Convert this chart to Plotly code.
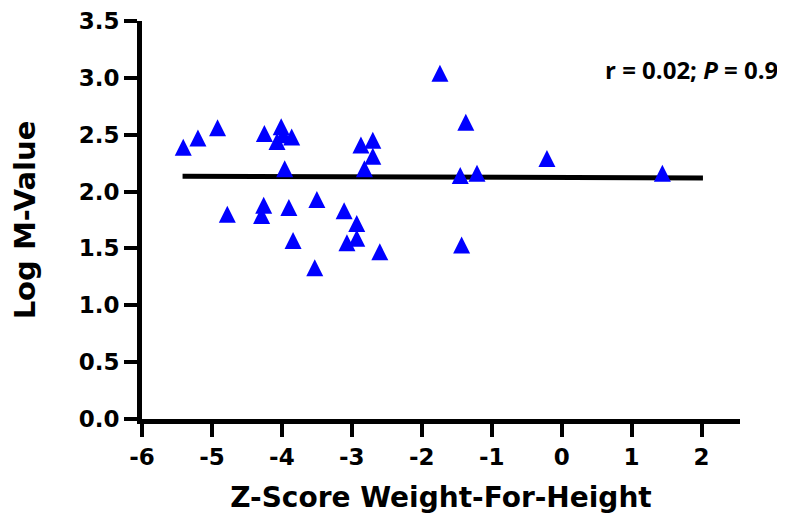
import plotly.graph_objects as go

# Data
z_score = [-5.41, -5.20, -4.92, -4.25, -4.01, -4.07, -3.86, -3.98, -3.96,
           -4.78, -4.26, -4.29, -3.90, -3.50, -3.84, -3.53, -3.11,
           -1.74, -1.37, -2.87, -2.70, -2.70, -2.82, -1.45, -1.21,
           -2.93, -2.93, -3.07, -2.60, -1.43, -0.21, 1.44]
log_m = [2.39, 2.47, 2.56, 2.51, 2.57, 2.44, 2.48, 2.50, 2.20,
         1.80, 1.88, 1.79, 1.86, 1.93, 1.57, 1.33, 1.83,
         3.04, 2.61, 2.41, 2.45, 2.31, 2.20, 2.14, 2.16,
         1.72, 1.59, 1.55, 1.47, 1.53, 2.29, 2.16]
fit_x = [-5.42, 2.02]
fit_y = [2.135, 2.12]

x_ticks = [-6, -5, -4, -3, -2, -1, 0, 1, 2]
y_ticks = [0.0, 0.5, 1.0, 1.5, 2.0, 2.5, 3.0, 3.5]
y_ticklabels = ["0.0", "0.5", "1.0", "1.5", "2.0", "2.5", "3.0", "3.5"]
annotation_text = "r = 0.02; <i>P</i> = 0.9"

FONT = "DejaVu Sans"
fig = go.Figure()
fig.add_trace(go.Scatter(
    x=fit_x, y=fit_y, mode="lines",
    line=dict(color="black", width=5), showlegend=False, hoverinfo="skip"))
# arrow-up markers are anchored at their apex; an overlay axis shifted by half
# the marker height puts the triangle centre at the data value
fig.add_trace(go.Scatter(
    x=z_score, y=log_m, mode="markers", yaxis="y2",
    marker=dict(symbol="arrow-up", size=17, color="#0000FF",
                line=dict(width=0)),
    showlegend=False))

# the page body has an 8px margin, so the figure is 8px smaller each way
fig.update_layout(
    width=777, height=511,
    margin=dict(l=134, r=45, t=13, b=100),
    plot_bgcolor="white", paper_bgcolor="white",
    font=dict(family=FONT, color="black"),
    xaxis=dict(
        range=[-6, 2.55], tickvals=x_ticks, ticktext=[str(v) for v in x_ticks],
        showline=True, linecolor="black", linewidth=5, automargin=False,
        ticks="outside", ticklen=13, tickwidth=4, tickcolor="black",
        showgrid=False, zeroline=False,
        tickfont=dict(family=FONT, size=23, color="black", weight="bold"),
        title=dict(text="Z-Score Weight-For-Height", standoff=20,
                   font=dict(family=FONT, size=28, color="black", weight="bold")),
    ),
    yaxis=dict(
        range=[0, 3.5], tickvals=y_ticks, ticktext=y_ticklabels,
        showline=True, linecolor="black", linewidth=5, automargin=False,
        ticks="outside", ticklen=13, tickwidth=4, tickcolor="black",
        showgrid=False, zeroline=False,
        tickfont=dict(family=FONT, size=23, color="black", weight="bold"),
        title=dict(text="Log M-Value", standoff=40,
                   font=dict(family=FONT, size=29, color="black", weight="bold")),
    ),
    yaxis2=dict(range=[-0.075, 3.425], overlaying="y", visible=False),
    annotations=[dict(
        text=annotation_text, xref="paper", yref="paper",
        x=1.067, y=0.877, xanchor="right", yanchor="middle", showarrow=False,
        font=dict(family="Open Sans", size=24, color="black", weight="bold"))],
)

fig.write_html("out.html")
